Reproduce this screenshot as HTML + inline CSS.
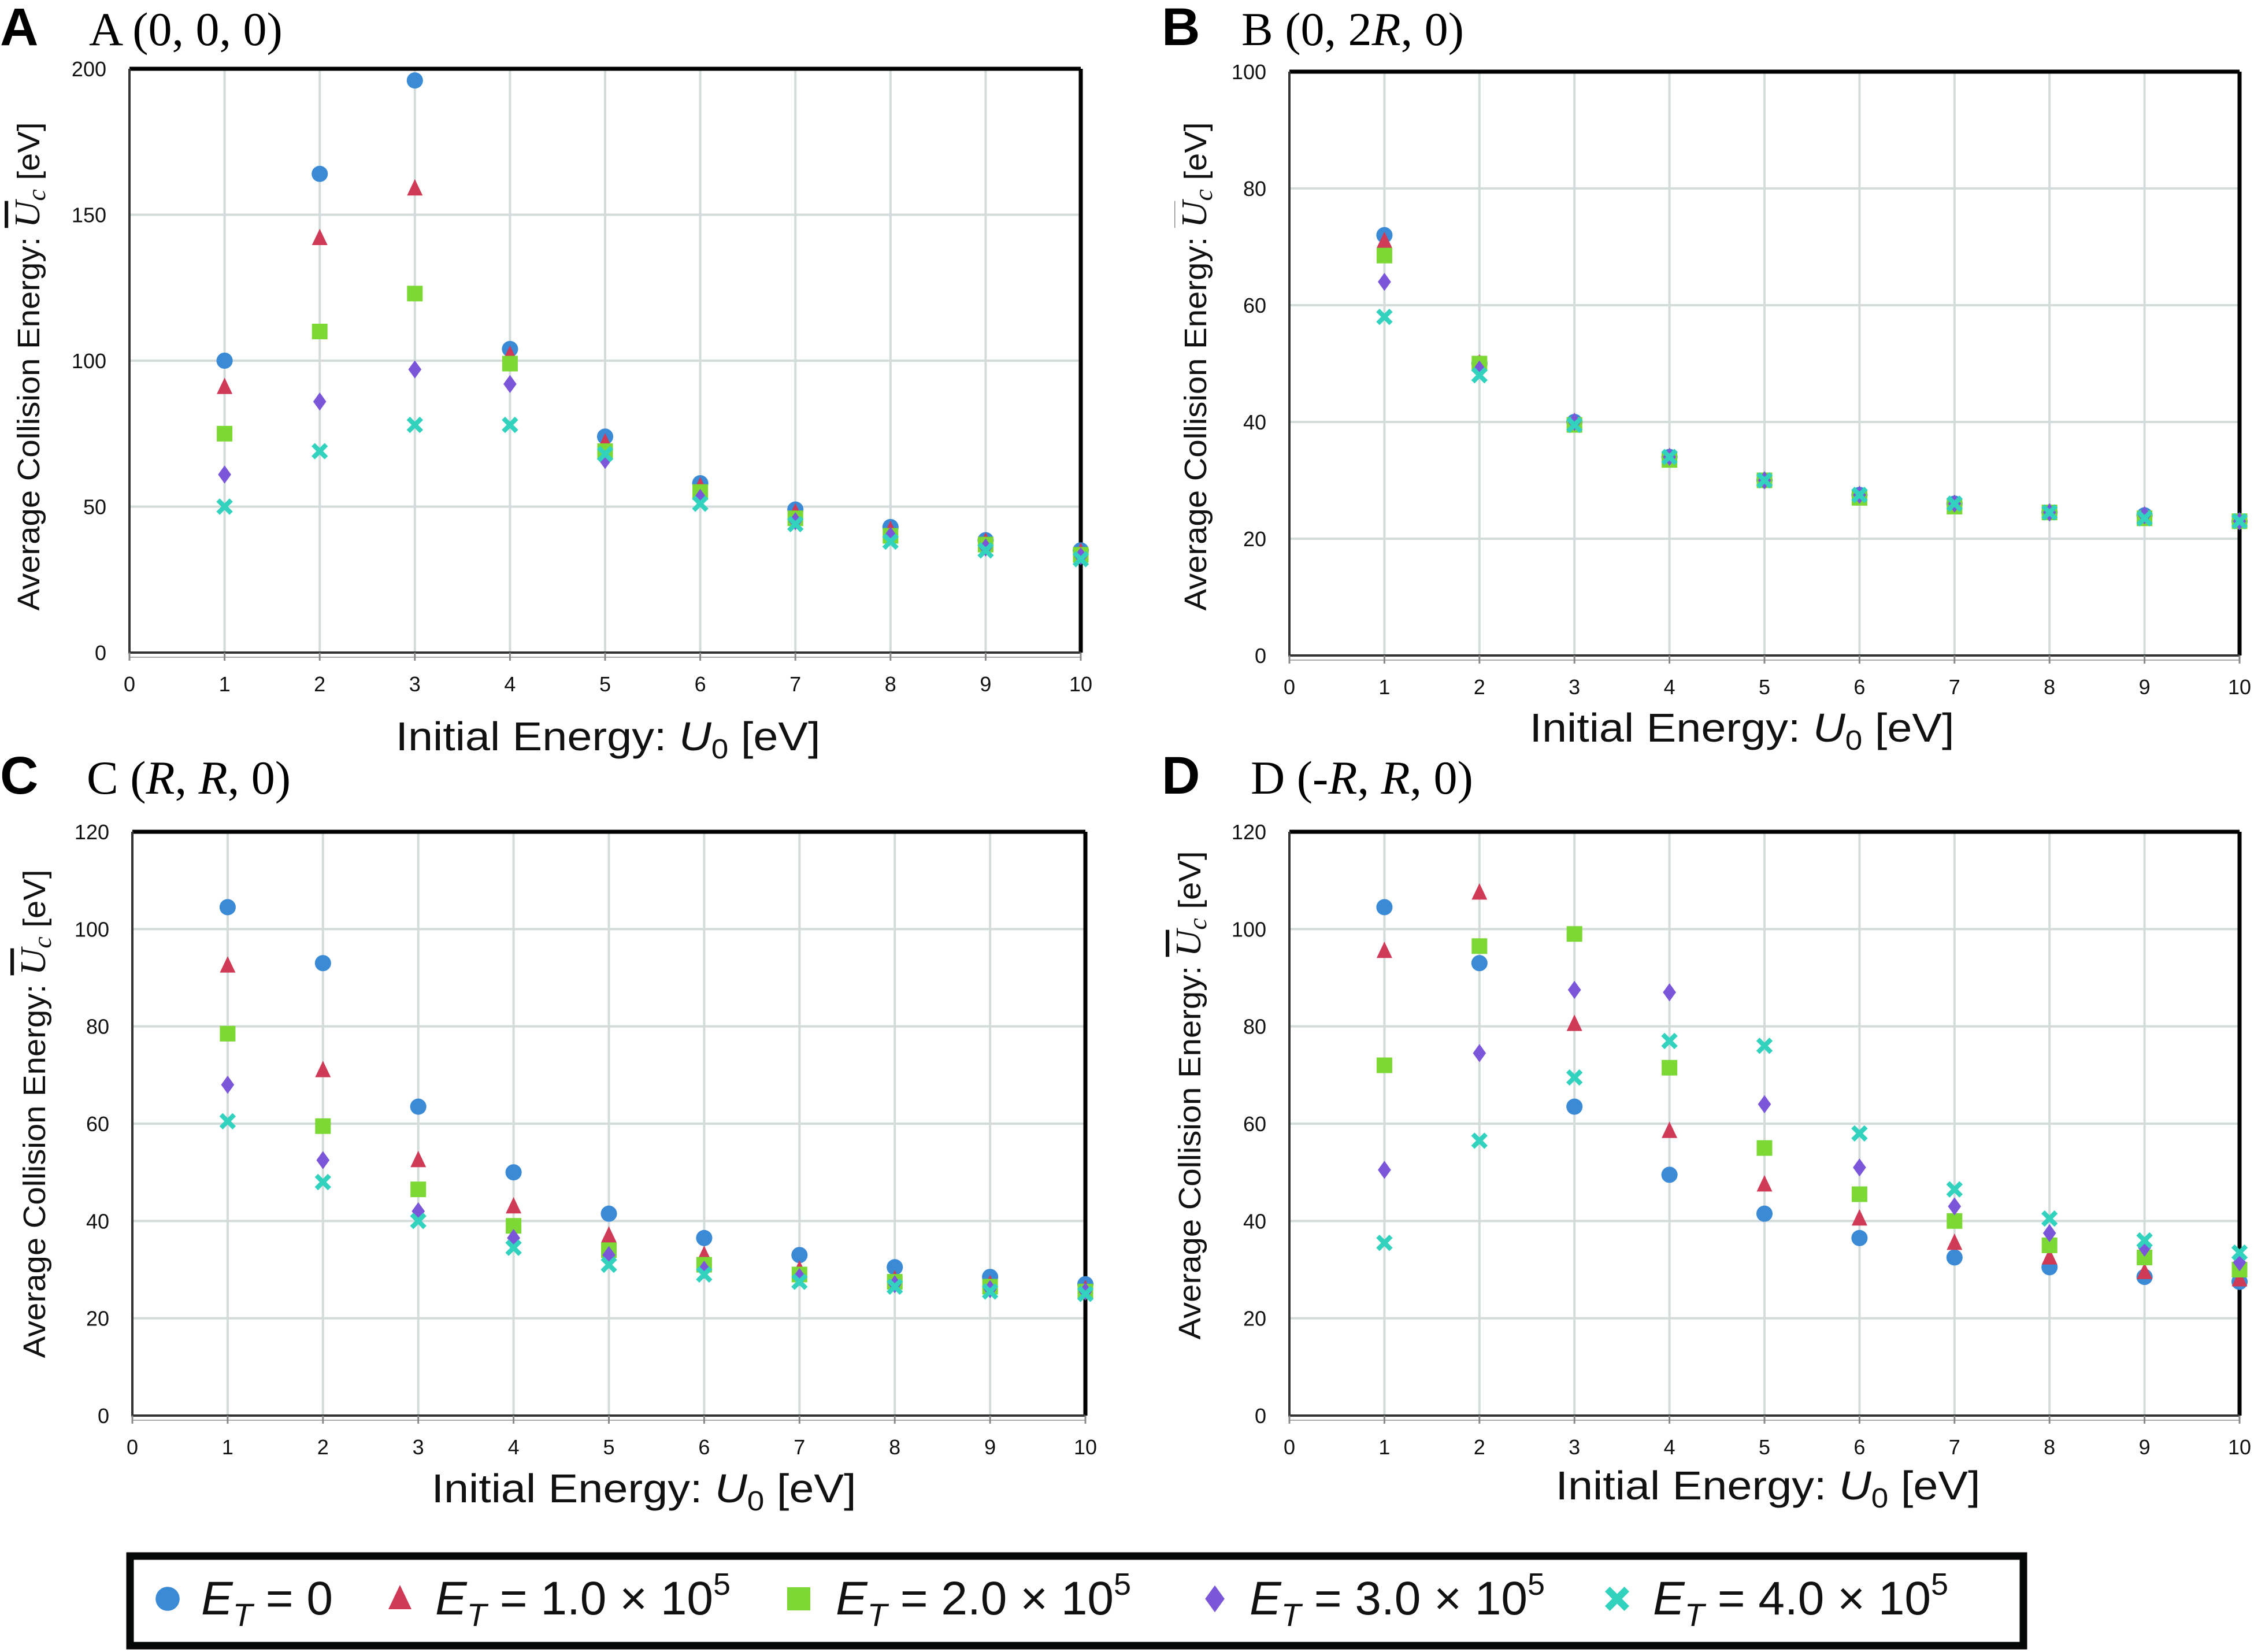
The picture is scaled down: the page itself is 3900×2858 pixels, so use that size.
<!DOCTYPE html>
<html><head><meta charset="utf-8"><style>
html,body{margin:0;padding:0;background:#fff;}
svg{display:block;}
</style></head><body>
<svg id="fig" xmlns="http://www.w3.org/2000/svg" width="3900" height="2858" viewBox="0 0 3900 2858">
<rect x="0" y="0" width="3900" height="2858" fill="#fff"/>
<g id="panels"></g>
<g id="legend">
  <rect x="225" y="2692" width="3276" height="155" fill="none" stroke="#050807" stroke-width="13"/>
</g>
</svg>
<script>
// ---------- data ----------
const categories = [1,2,3,4,5,6,7,8,9,10];
const xTickLabels = ["0","1","2","3","4","5","6","7","8","9","10"];
const seriesNames = ["E_T = 0","E_T = 1.0 × 10^5","E_T = 2.0 × 10^5","E_T = 3.0 × 10^5","E_T = 4.0 × 10^5"];

const panelA_E0 = [100,164,196,104,74,58,49,43,38.5,35];
const panelA_E1 = [91,142,159,102,72,57,48,42,38,34.5];
const panelA_E2 = [75,110,123,99,69,55,46,40,37,33.5];
const panelA_E3 = [61,86,97,92,66,53,45,40,36,33];
const panelA_E4 = [50,69,78,78,68,51,44,38,35,32];
const panelA_yTicks = [0,50,100,150,200];

const panelB_E0 = [72,50,40,34,30,27.5,26,24.5,24,23];
const panelB_E1 = [71,50,40,34,30,27.5,26,24.5,24,23];
const panelB_E2 = [68.5,50,39.5,33.5,30,27,25.5,24.5,23.5,23];
const panelB_E3 = [64,49,40,34,30,27.5,26,24.5,24,23];
const panelB_E4 = [58,48,39.5,34,30,27.5,26,24.5,23.5,23];
const panelB_yTicks = [0,20,40,60,80,100];

const panelC_E0 = [104.5,93,63.5,50,41.5,36.5,33,30.5,28.5,27];
const panelC_E1 = [92.5,71,52.5,43,37,33,30,28,27,26];
const panelC_E2 = [78.5,59.5,46.5,39,34,31,29,27.5,26.5,25.5];
const panelC_E3 = [68,52.5,42,36.5,33,30,28.5,27,26,25.5];
const panelC_E4 = [60.5,48,40,34.5,31,29,27.5,26.5,25.5,25];
const panelC_yTicks = [0,20,40,60,80,100,120];

const panelD_E0 = [104.5,93,63.5,49.5,41.5,36.5,32.5,30.5,28.5,27.5];
const panelD_E1 = [95.5,107.5,80.5,58.5,47.5,40.5,35.5,32.5,29.5,28];
const panelD_E2 = [72,96.5,99,71.5,55,45.5,40,35,32.5,30];
const panelD_E3 = [50.5,74.5,87.5,87,64,51,43,37.5,34.5,31.5];
const panelD_E4 = [35.5,56.5,69.5,77,76,58,46.5,40.5,36,33.5];
const panelD_yTicks = [0,20,40,60,80,100,120];

// ---------- layout ----------
const NS = "http://www.w3.org/2000/svg";
const COLORS = ["#3a8ad6","#cf3a56","#7cd834","#7b56d8","#33d2be"];
const SHAPES = ["circle","triangle","square","diamond","cross"];
const panels = [
  {id:"a", letter:"A", label:"A", coord:["(0, 0, 0)"], x0:224,x1:1870,y0:119,y1:1129, data:[panelA_E0,panelA_E1,panelA_E2,panelA_E3,panelA_E4], yTicks:panelA_yTicks,
   lx:0, tx:154, ty:78, ytx:50, yty:634, xtx:1052, xty:1298},
  {id:"b", letter:"B", label:"B", coord:["(0, 2","R",", 0)"], x0:2231,x1:3875,y0:124,y1:1134, data:[panelB_E0,panelB_E1,panelB_E2,panelB_E3,panelB_E4], yTicks:panelB_yTicks,
   lx:2010, tx:2148, ty:78, ytx:2069, yty:634, xtx:3014, xty:1283},
  {id:"c", letter:"C", label:"C", coord:["(","R",", ","R",", 0)"], x0:229,x1:1878,y0:1439,y1:2449, data:[panelC_E0,panelC_E1,panelC_E2,panelC_E3,panelC_E4], yTicks:panelC_yTicks,
   lx:0, tx:150, ty:1373, ytx:60, yty:1927, xtx:1114, xty:2599},
  {id:"d", letter:"D", label:"D", coord:["(-","R",", ","R",", 0)"], x0:2231,x1:3875,y0:1439,y1:2449, data:[panelD_E0,panelD_E1,panelD_E2,panelD_E3,panelD_E4], yTicks:panelD_yTicks,
   lx:2010, tx:2164, ty:1373, ytx:2059, yty:1895, xtx:3059, xty:2594}
];

function mk(tag, attrs, parent){
  const e = document.createElementNS(NS, tag);
  for (const k in attrs) e.setAttribute(k, attrs[k]);
  if (parent) parent.appendChild(e);
  return e;
}

function drawMarker(g, shape, cx, cy, color, s){
  let e;
  if (shape==="circle") e = mk("circle",{cx:cx,cy:cy,r:s*0.52,fill:color},g);
  else if (shape==="triangle") e = mk("polygon",{points:`${cx},${cy-s*0.6} ${cx+s*0.5},${cy+s*0.45} ${cx-s*0.5},${cy+s*0.45}`,fill:color},g);
  else if (shape==="square") e = mk("rect",{x:cx-s*0.5,y:cy-s*0.5,width:s,height:s,fill:color},g);
  else if (shape==="diamond") e = mk("polygon",{points:`${cx},${cy-s*0.58} ${cx+s*0.42},${cy} ${cx},${cy+s*0.58} ${cx-s*0.42},${cy}`,fill:color},g);
  else {
    e = mk("g",{},g);
    const d=s*0.42;
    mk("line",{x1:cx-d,y1:cy-d,x2:cx+d,y2:cy+d,stroke:color,"stroke-width":s*0.3},e);
    mk("line",{x1:cx-d,y1:cy+d,x2:cx+d,y2:cy-d,stroke:color,"stroke-width":s*0.3},e);
  }
  return e;
}

const root = document.getElementById("panels");
panels.forEach(p=>{
  const g = mk("g",{},root);
  
  
  const ymax = p.yTicks[p.yTicks.length-1];
  const xs = v => p.x0 + (v/10)*(p.x1-p.x0);
  const ys = v => p.y1 - (v/ymax)*(p.y1-p.y0);

  // panel heading
  const letter = mk("text",{x:p.lx,y:p.ty,"font-family":"Liberation Sans, sans-serif","font-weight":"bold","font-size":92},g);
  letter.textContent = p.letter;
  
  
  const title = mk("text",{x:p.tx,y:p.ty,"font-family":"Liberation Serif, serif","font-size":82},g);
  
  
  const t0 = mk("tspan",{},title); t0.textContent = p.label + "  ";
  p.coord.forEach(s=>{ const ts = mk("tspan", s==="R"?{"font-style":"italic"}:{}, title); ts.textContent = s; });

  // grid
  const grid = mk("g",{stroke:"#d3dbdb","stroke-width":4},g);
  
  
  p.yTicks.forEach(v=>{ if(v>0 && v<ymax) mk("line",{x1:p.x0,y1:ys(v),x2:p.x1,y2:ys(v)},grid); });
  categories.forEach(v=>{ if(v<10) mk("line",{x1:xs(v),y1:p.y0,x2:xs(v),y2:p.y1},grid); });

  // axes frame
  const frame = mk("g",{},g);
  
  
  mk("line",{x1:p.x0,y1:p.y0,x2:p.x1,y2:p.y0,stroke:"#000","stroke-width":7},frame);
  mk("line",{x1:p.x1,y1:p.y0,x2:p.x1,y2:p.y1,stroke:"#000","stroke-width":7},frame);
  mk("line",{x1:p.x0,y1:p.y0,x2:p.x0,y2:p.y1+2,stroke:"#333","stroke-width":4},frame);
  mk("line",{x1:p.x0,y1:p.y1,x2:p.x1,y2:p.y1,stroke:"#333","stroke-width":4},frame);
  mk("line",{x1:p.x0,y1:p.y1+8,x2:p.x1,y2:p.y1+8,stroke:"#aaa","stroke-width":2},frame);

  // y ticks
  const yt = mk("g",{"font-family":"Liberation Sans, sans-serif","font-size":36,"text-anchor":"end",fill:"#111"},g);
  
  
  p.yTicks.forEach(v=>{ const t = mk("text",{x:p.x0-40,y:ys(v)+13,transform:`scale(0.85,1)`, },yt);
    t.setAttribute("transform",""); t.textContent = String(v); });
  // x ticks
  const xt = mk("g",{"font-family":"Liberation Sans, sans-serif","font-size":36,"text-anchor":"middle",fill:"#111"},g);
  
  
  xTickLabels.forEach((s,i)=>{
    mk("line",{x1:xs(i),y1:p.y1,x2:xs(i),y2:p.y1+14,stroke:"#888","stroke-width":3},xt);
    const t = mk("text",{x:xs(i),y:p.y1+67},xt); t.textContent = s; });

  // axis titles
  const xtl = mk("text",{x:p.xtx,y:p.xty,"font-family":"Liberation Sans, sans-serif","font-size":70,"text-anchor":"middle",textLength:735,lengthAdjust:"spacingAndGlyphs",fill:"#111"},g);
  
  
  xtl.appendChild(document.createTextNode("Initial Energy: "));
  const u = mk("tspan",{"font-style":"italic"},xtl); u.textContent="U";
  const sub = mk("tspan",{"font-size":48,dy:14},xtl); sub.textContent="0";
  const rest = mk("tspan",{dy:-14},xtl); rest.textContent=" [eV]";

  const ytl = mk("text",{x:0,y:0,"font-family":"Liberation Sans, sans-serif","font-size":54,"text-anchor":"middle",textLength:845,lengthAdjust:"spacingAndGlyphs",fill:"#111",transform:`translate(${p.ytx+18},${p.yty}) rotate(-90)`},g);
  
  
  ytl.appendChild(document.createTextNode("Average Collision Energy: "));
  const uc = mk("tspan",{"font-style":"italic","text-decoration":"overline","font-family":"Liberation Serif, serif","font-size":62},ytl); uc.textContent="U";
  const c = mk("tspan",{"font-style":"italic","font-family":"Liberation Serif, serif","font-size":44,dy:10},ytl); c.textContent="c";
  const r2 = mk("tspan",{dy:-10},ytl); r2.textContent=" [eV]";

  // series
  p.data.forEach((arr,si)=>{
    const sg = mk("g",{},g);
    
    
    arr.forEach((v,i)=>{
      const m = drawMarker(sg, SHAPES[si], xs(categories[i]), ys(v), COLORS[si], 27);
      
      
    });
  });
});

// legend
const lg = document.getElementById("legend");
const legendMarkX = [290, 692, 1382, 2102, 2798];
const legendTextX = [348, 753, 1446, 2162, 2860];
const legendVals = ["0","1.0 × 10","2.0 × 10","3.0 × 10","4.0 × 10"];
const legendLen = [232, 513, 513, 513, 513];
seriesNames.forEach((n,i)=>{
  const eg = mk("g",{},lg);
  
  
  drawMarker(eg, SHAPES[i], legendMarkX[i], 2766, COLORS[i], 40);
  const t = mk("text",{x:legendTextX[i],y:2793,"font-family":"Liberation Sans, sans-serif","font-size":82,fill:"#111"},eg);
  const e = mk("tspan",{"font-style":"italic"},t); e.textContent="E";
  const tt = mk("tspan",{"font-style":"italic","font-size":56,dy:20},t); tt.textContent="T";
  const eq = mk("tspan",{dy:-20},t); eq.textContent=" = " + legendVals[i];
  if (i>0){ const sp = mk("tspan",{"font-size":54,dy:-34},t); sp.textContent="5"; }
});
</script>
</body></html>
